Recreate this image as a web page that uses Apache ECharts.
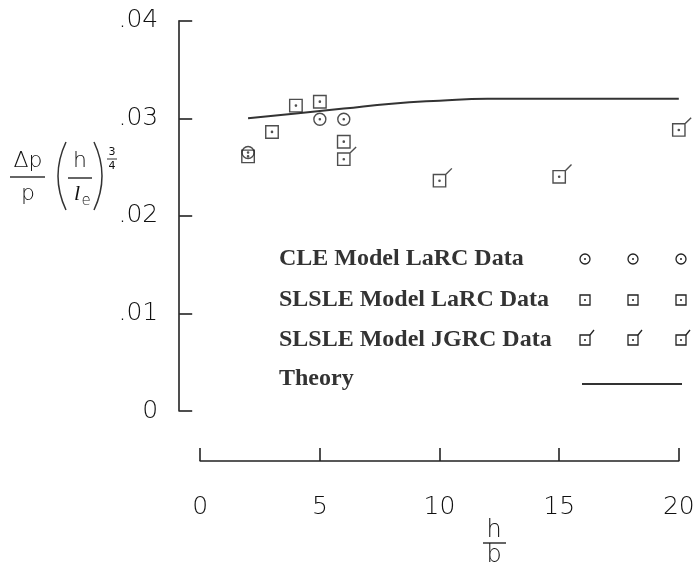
<!DOCTYPE html>
<html>
<head>
<meta charset="utf-8">
<script src="https://cdn.jsdelivr.net/npm/echarts@6/dist/echarts.min.js"></script>
<style>
  html, body { margin: 0; padding: 0; background: #fff; }
  #chart { width: 693px; height: 565px; }
</style>
</head>
<body>
<div id="chart"></div>
<script>
// ---- data ----
const cleX = [2, 5, 6];
const cleY = [0.0265, 0.0299, 0.0299];

const larcX = [2, 3, 4, 5, 6];
const larcY = [0.0261, 0.0286, 0.0313, 0.0317, 0.0276];

const jgrcX = [6, 10, 15, 20];
const jgrcY = [0.0258, 0.0236, 0.0240, 0.0288];

const theoryX = [2, 4, 6, 8, 10, 12, 14, 16, 18, 20];
const theoryY = [0.0300, 0.0305, 0.0310, 0.0315, 0.0318, 0.0320, 0.0320, 0.0320, 0.0320, 0.0320];

const xTickLabels = ['0', '5', '10', '15', '20'];
const yTickLabels = ['0', '.01', '.02', '.03', '.04'];

const legendNames = ['CLE Model LaRC Data', 'SLSLE Model LaRC Data', 'SLSLE Model JGRC Data', 'Theory'];

// ---- helpers ----
function zip(xs, ys) { return xs.map((x, i) => [x, ys[i]]); }
const INK = '#222';
const dot = 'M5.4 6 C5.4 5.67 5.67 5.4 6 5.4 C6.33 5.4 6.6 5.67 6.6 6 C6.6 6.33 6.33 6.6 6 6.6 C5.67 6.6 5.4 6.33 5.4 6 Z';
const circlePath = 'path://M0 6 C0 2.69 2.69 0 6 0 C9.31 0 12 2.69 12 6 C12 9.31 9.31 12 6 12 C2.69 12 0 9.31 0 6 Z ' + dot;
const squarePath = 'path://M0 0 L12 0 L12 12 L0 12 Z ' + dot;
const flagPath = 'path://M0 0 L12 0 L12 12 L0 12 Z M12 0 L18 -6 ' + dot;

const markerStyle = { color: 'transparent', borderColor: INK, borderWidth: 1.4 };
const LETTER = '"DejaVu Sans"';
const LCOL = '#111';

// ---- legend & titles (graphic) ----
const graphic = [];
const rowsY = [259, 300, 340, 379];
const colsX = [585, 633, 681];
legendNames.forEach((name, i) => {
  graphic.push({
    type: 'text', x: 279, y: rowsY[i],
    style: { text: name, font: 'bold 24px "Liberation Serif"', fill: '#333', textVerticalAlign: 'middle' }
  });
});
colsX.forEach(cx => {
  graphic.push({ type: 'circle', shape: { cx: cx, cy: rowsY[0], r: 5 }, style: { fill: 'none', stroke: INK, lineWidth: 1.3 } });
  graphic.push({ type: 'circle', shape: { cx: cx, cy: rowsY[0], r: 1 }, style: { fill: INK } });
  graphic.push({ type: 'rect', shape: { x: cx - 5, y: rowsY[1] - 5, width: 10, height: 10 }, style: { fill: 'none', stroke: INK, lineWidth: 1.3 } });
  graphic.push({ type: 'circle', shape: { cx: cx, cy: rowsY[1], r: 1 }, style: { fill: INK } });
  graphic.push({ type: 'rect', shape: { x: cx - 5, y: rowsY[2] - 5, width: 10, height: 10 }, style: { fill: 'none', stroke: INK, lineWidth: 1.3 } });
  graphic.push({ type: 'line', shape: { x1: cx + 5, y1: rowsY[2] - 5, x2: cx + 9, y2: rowsY[2] - 10 }, style: { stroke: INK, lineWidth: 1.3 } });
  graphic.push({ type: 'circle', shape: { cx: cx, cy: rowsY[2], r: 1 }, style: { fill: INK } });
});
graphic.push({ type: 'line', shape: { x1: 582, y1: 384, x2: 682, y2: 384 }, style: { stroke: '#333', lineWidth: 2 } });

// y-axis title:  Δp/p (h/l_e)^(3/4)
const tf = '200 22px ' + LETTER;
graphic.push({ type: 'text', x: 28, y: 161, style: { text: 'Δp', font: tf, fill: LCOL, textAlign: 'center', textVerticalAlign: 'middle' } });
graphic.push({ type: 'line', shape: { x1: 10, y1: 177, x2: 45, y2: 177 }, style: { stroke: '#333', lineWidth: 1.5 } });
graphic.push({ type: 'text', x: 28, y: 194, style: { text: 'p', font: tf, fill: LCOL, textAlign: 'center', textVerticalAlign: 'middle' } });
graphic.push({ type: 'bezierCurve', shape: { x1: 66, y1: 142, cpx1: 50, cpy1: 176, x2: 66, y2: 210 }, style: { stroke: '#333', lineWidth: 1.5, fill: 'none' } });
graphic.push({ type: 'text', x: 80, y: 161, style: { text: 'h', font: tf, fill: LCOL, textAlign: 'center', textVerticalAlign: 'middle' } });
graphic.push({ type: 'line', shape: { x1: 68, y1: 178, x2: 92, y2: 178 }, style: { stroke: '#333', lineWidth: 1.5 } });
graphic.push({ type: 'text', x: 77, y: 194, style: { text: 'l', font: 'italic 22px "Liberation Serif"', fill: LCOL, textAlign: 'center', textVerticalAlign: 'middle' } });
graphic.push({ type: 'text', x: 86, y: 201, style: { text: 'e', font: '200 15px ' + LETTER, fill: LCOL, textAlign: 'center', textVerticalAlign: 'middle' } });
graphic.push({ type: 'bezierCurve', shape: { x1: 94, y1: 142, cpx1: 110, cpy1: 176, x2: 94, y2: 210 }, style: { stroke: '#333', lineWidth: 1.5, fill: 'none' } });
graphic.push({ type: 'text', x: 112, y: 152, style: { text: '3', font: '11px ' + LETTER, fill: LCOL, textAlign: 'center', textVerticalAlign: 'middle' } });
graphic.push({ type: 'line', shape: { x1: 107, y1: 159, x2: 117, y2: 159 }, style: { stroke: '#333', lineWidth: 1 } });
graphic.push({ type: 'text', x: 112, y: 166, style: { text: '4', font: '11px ' + LETTER, fill: LCOL, textAlign: 'center', textVerticalAlign: 'middle' } });

// x-axis title: h/b
graphic.push({ type: 'text', x: 494, y: 531, style: { text: 'h', font: '200 24px ' + LETTER, fill: LCOL, textAlign: 'center', textVerticalAlign: 'middle' } });
graphic.push({ type: 'line', shape: { x1: 483, y1: 543, x2: 506, y2: 543 }, style: { stroke: '#333', lineWidth: 1.5 } });
graphic.push({ type: 'text', x: 494, y: 556, style: { text: 'b', font: '200 24px ' + LETTER, fill: LCOL, textAlign: 'center', textVerticalAlign: 'middle' } });

const chart = echarts.init(document.getElementById('chart'), null, { renderer: 'canvas' });
chart.setOption({
  animation: false,
  backgroundColor: '#fff',
  grid: { left: 200.2, right: 14.2, top: 20.7, bottom: 154, containLabel: false, outerBoundsMode: 'none' },
  xAxis: {
    type: 'value', min: 0, max: 20, interval: 5, offset: 50,
    axisLine: { show: true, onZero: false, lineStyle: { color: INK, width: 1.6 } },
    axisTick: { show: true, inside: true, length: 13, lineStyle: { color: INK, width: 1.6 } },
    splitLine: { show: false },
    axisLabel: {
      margin: 34, fontSize: 25, fontWeight: 200, color: LCOL, fontFamily: 'DejaVu Sans',
      hideOverlap: false,
      formatter: v => xTickLabels[Math.round(v / 5)]
    }
  },
  yAxis: {
    type: 'value', min: 0, max: 0.04, interval: 0.01, offset: 21,
    axisLine: { show: true, onZero: false, lineStyle: { color: INK, width: 1.6 } },
    axisTick: { show: true, inside: true, length: 13, lineStyle: { color: INK, width: 1.6 } },
    splitLine: { show: false },
    axisLabel: {
      margin: 21, fontSize: 25, fontWeight: 200, color: LCOL, fontFamily: 'DejaVu Sans',
      formatter: v => yTickLabels[Math.round(v / 0.01)]
    }
  },
  graphic: graphic,
  series: [
    {
      name: legendNames[3], type: 'line', smooth: true, showSymbol: false, symbol: 'none',
      data: zip(theoryX, theoryY), lineStyle: { color: '#333', width: 2 }, z: 1
    },
    {
      name: legendNames[1], type: 'scatter', symbol: squarePath, symbolSize: 12.5,
      data: zip(larcX, larcY), itemStyle: markerStyle, clip: false, z: 3
    },
    {
      name: legendNames[0], type: 'scatter', symbol: circlePath, symbolSize: 12,
      data: zip(cleX, cleY), itemStyle: markerStyle, clip: false, z: 3
    },
    {
      name: legendNames[2], type: 'scatter', symbol: flagPath, symbolSize: [18.5, 18.5],
      symbolOffset: [3.1, -3.1],
      data: zip(jgrcX, jgrcY), itemStyle: markerStyle, clip: false, z: 3
    }
  ]
});
</script>
</body>
</html>
